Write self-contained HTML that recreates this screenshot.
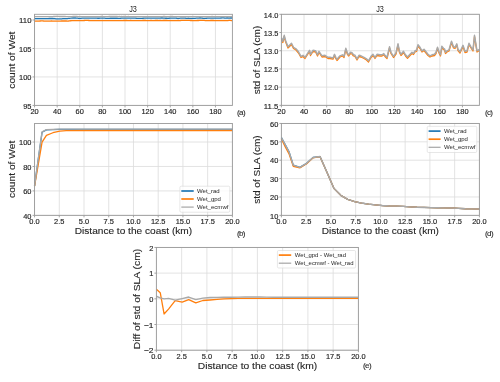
<!DOCTYPE html>
<html><head><meta charset="utf-8"><style>
html,body{margin:0;padding:0;background:#fff;}
svg{display:block;font-family:"Liberation Sans", sans-serif;}
</style></head><body>
<svg width="500" height="382" viewBox="0 0 500 382" style="will-change:transform">
<rect width="500" height="382" fill="#fff"/>
<line x1="34.55" y1="14.30" x2="34.55" y2="105.40" stroke="#dcdcdc" stroke-width="0.8"/>
<line x1="57.16" y1="14.30" x2="57.16" y2="105.40" stroke="#dcdcdc" stroke-width="0.8"/>
<line x1="79.77" y1="14.30" x2="79.77" y2="105.40" stroke="#dcdcdc" stroke-width="0.8"/>
<line x1="102.38" y1="14.30" x2="102.38" y2="105.40" stroke="#dcdcdc" stroke-width="0.8"/>
<line x1="125.00" y1="14.30" x2="125.00" y2="105.40" stroke="#dcdcdc" stroke-width="0.8"/>
<line x1="147.61" y1="14.30" x2="147.61" y2="105.40" stroke="#dcdcdc" stroke-width="0.8"/>
<line x1="170.22" y1="14.30" x2="170.22" y2="105.40" stroke="#dcdcdc" stroke-width="0.8"/>
<line x1="192.83" y1="14.30" x2="192.83" y2="105.40" stroke="#dcdcdc" stroke-width="0.8"/>
<line x1="215.44" y1="14.30" x2="215.44" y2="105.40" stroke="#dcdcdc" stroke-width="0.8"/>
<line x1="34.55" y1="105.40" x2="232.40" y2="105.40" stroke="#dcdcdc" stroke-width="0.8"/>
<line x1="34.55" y1="76.93" x2="232.40" y2="76.93" stroke="#dcdcdc" stroke-width="0.8"/>
<line x1="34.55" y1="48.46" x2="232.40" y2="48.46" stroke="#dcdcdc" stroke-width="0.8"/>
<line x1="34.55" y1="19.99" x2="232.40" y2="19.99" stroke="#dcdcdc" stroke-width="0.8"/>
<polyline points="34.55,18.57 35.68,18.55 36.81,18.60 37.94,18.66 39.07,18.64 40.20,18.60 41.33,18.67 42.46,18.65 43.59,18.71 44.73,18.69 45.86,18.70 46.99,18.71 48.12,18.61 49.25,18.48 50.38,18.50 51.51,18.52 52.64,18.50 53.77,18.64 54.90,18.71 56.03,18.79 57.16,18.86 58.29,18.84 59.42,18.84 60.55,18.85 61.68,18.79 62.81,18.70 63.94,18.66 65.08,18.57 66.21,18.56 67.34,18.53 68.47,18.47 69.60,18.39 70.73,18.23 71.86,18.04 72.99,18.01 74.12,17.98 75.25,17.97 76.38,18.09 77.51,18.19 78.64,18.30 79.77,18.29 80.90,18.28 82.03,18.19 83.16,18.18 84.30,18.05 85.43,18.03 86.56,18.09 87.69,18.19 88.82,18.11 89.95,18.18 91.08,18.16 92.21,18.10 93.34,18.12 94.47,18.16 95.60,18.12 96.73,18.22 97.86,18.27 98.99,18.23 100.12,18.18 101.25,18.18 102.38,18.21 103.51,18.18 104.65,18.22 105.78,18.35 106.91,18.34 108.04,18.34 109.17,18.29 110.30,18.24 111.43,18.22 112.56,18.23 113.69,18.24 114.82,18.22 115.95,18.27 117.08,18.24 118.21,18.32 119.34,18.29 120.47,18.25 121.60,18.15 122.73,18.16 123.87,18.06 125.00,18.07 126.13,18.16 127.26,18.15 128.39,18.10 129.52,18.22 130.65,18.10 131.78,18.13 132.91,18.22 134.04,18.20 135.17,18.16 136.30,18.26 137.43,18.28 138.56,18.31 139.69,18.34 140.82,18.35 141.95,18.31 143.08,18.26 144.22,18.21 145.35,18.15 146.48,18.12 147.61,18.12 148.74,18.05 149.87,18.09 151.00,18.21 152.13,18.14 153.26,18.11 154.39,18.20 155.52,18.20 156.65,18.11 157.78,18.11 158.91,18.20 160.04,18.10 161.17,17.99 162.30,18.01 163.44,18.09 164.57,18.10 165.70,18.24 166.83,18.23 167.96,18.28 169.09,18.24 170.22,18.22 171.35,18.10 172.48,18.15 173.61,18.15 174.74,18.22 175.87,18.16 177.00,18.27 178.13,18.32 179.26,18.28 180.39,18.18 181.52,18.20 182.65,18.17 183.79,18.07 184.92,18.12 186.05,18.24 187.18,18.29 188.31,18.27 189.44,18.39 190.57,18.40 191.70,18.35 192.83,18.30 193.96,18.35 195.09,18.30 196.22,18.20 197.35,18.11 198.48,18.10 199.61,18.01 200.74,17.98 201.87,18.09 203.01,18.23 204.14,18.32 205.27,18.29 206.40,18.27 207.53,18.15 208.66,18.16 209.79,18.06 210.92,18.13 212.05,18.12 213.18,18.22 214.31,18.07 215.44,18.16 216.57,18.15 217.70,18.15 218.83,18.06 219.96,18.10 221.09,18.01 222.22,17.97 223.36,17.94 224.49,18.02 225.62,18.03 226.75,18.00 227.88,17.99 229.01,18.07 230.14,18.00 231.27,17.97 232.40,18.02" fill="none" stroke="#1f77b4" stroke-width="1.3" stroke-linejoin="round" stroke-linecap="butt"/>
<polyline points="34.55,21.08 35.68,21.09 36.81,21.14 37.94,21.12 39.07,21.06 40.20,20.99 41.33,20.97 42.46,20.92 43.59,21.00 44.73,21.03 45.86,21.08 46.99,21.04 48.12,21.11 49.25,21.03 50.38,21.07 51.51,21.01 52.64,21.08 53.77,21.04 54.90,21.04 56.03,21.04 57.16,21.12 58.29,21.05 59.42,21.04 60.55,21.12 61.68,21.01 62.81,20.91 63.94,21.00 65.08,21.01 66.21,21.01 67.34,21.08 68.47,21.01 69.60,20.89 70.73,20.74 71.86,20.64 72.99,20.66 74.12,20.63 75.25,20.61 76.38,20.64 77.51,20.57 78.64,20.54 79.77,20.59 80.90,20.63 82.03,20.60 83.16,20.55 84.30,20.50 85.43,20.46 86.56,20.43 87.69,20.47 88.82,20.50 89.95,20.53 91.08,20.60 92.21,20.61 93.34,20.61 94.47,20.63 95.60,20.62 96.73,20.57 97.86,20.60 98.99,20.54 100.12,20.55 101.25,20.59 102.38,20.62 103.51,20.57 104.65,20.62 105.78,20.58 106.91,20.63 108.04,20.59 109.17,20.62 110.30,20.59 111.43,20.67 112.56,20.65 113.69,20.68 114.82,20.62 115.95,20.70 117.08,20.65 118.21,20.66 119.34,20.66 120.47,20.68 121.60,20.58 122.73,20.57 123.87,20.49 125.00,20.50 126.13,20.45 127.26,20.52 128.39,20.55 129.52,20.58 130.65,20.49 131.78,20.60 132.91,20.61 134.04,20.54 135.17,20.59 136.30,20.66 137.43,20.66 138.56,20.69 139.69,20.71 140.82,20.63 141.95,20.55 143.08,20.49 144.22,20.49 145.35,20.52 146.48,20.55 147.61,20.57 148.74,20.55 149.87,20.53 151.00,20.50 152.13,20.54 153.26,20.56 154.39,20.61 155.52,20.52 156.65,20.48 157.78,20.52 158.91,20.56 160.04,20.49 161.17,20.56 162.30,20.56 163.44,20.52 164.57,20.47 165.70,20.49 166.83,20.50 167.96,20.57 169.09,20.60 170.22,20.60 171.35,20.61 172.48,20.62 173.61,20.55 174.74,20.53 175.87,20.58 177.00,20.61 178.13,20.51 179.26,20.55 180.39,20.52 181.52,20.44 182.65,20.38 183.79,20.41 184.92,20.43 186.05,20.43 187.18,20.43 188.31,20.45 189.44,20.47 190.57,20.48 191.70,20.51 192.83,20.53 193.96,20.55 195.09,20.62 196.22,20.58 197.35,20.51 198.48,20.51 199.61,20.47 200.74,20.36 201.87,20.38 203.01,20.40 204.14,20.45 205.27,20.54 206.40,20.60 207.53,20.63 208.66,20.61 209.79,20.58 210.92,20.52 212.05,20.49 213.18,20.52 214.31,20.56 215.44,20.56 216.57,20.58 217.70,20.62 218.83,20.59 219.96,20.61 221.09,20.61 222.22,20.64 223.36,20.66 224.49,20.67 225.62,20.63 226.75,20.62 227.88,20.56 229.01,20.46 230.14,20.46 231.27,20.53 232.40,20.57" fill="none" stroke="#ff7f0e" stroke-width="1.3" stroke-linejoin="round" stroke-linecap="butt"/>
<polyline points="34.55,16.56 35.68,16.56 36.81,16.62 37.94,16.67 39.07,16.68 40.20,16.69 41.33,16.65 42.46,16.65 43.59,16.64 44.73,16.67 45.86,16.60 46.99,16.59 48.12,16.61 49.25,16.61 50.38,16.64 51.51,16.64 52.64,16.62 53.77,16.53 54.90,16.48 56.03,16.41 57.16,16.41 58.29,16.41 59.42,16.47 60.55,16.46 61.68,16.49 62.81,16.51 63.94,16.53 65.08,16.52 66.21,16.57 67.34,16.57 68.47,16.62 69.60,16.67 70.73,16.63 71.86,16.58 72.99,16.52 74.12,16.48 75.25,16.44 76.38,16.44 77.51,16.51 78.64,16.55 79.77,16.57 80.90,16.61 82.03,16.67 83.16,16.63 84.30,16.67 85.43,16.67 86.56,16.63 87.69,16.60 88.82,16.65 89.95,16.62 91.08,16.64 92.21,16.68 93.34,16.70 94.47,16.68 95.60,16.72 96.73,16.68 97.86,16.60 98.99,16.58 100.12,16.55 101.25,16.46 102.38,16.52 103.51,16.61 104.65,16.56 105.78,16.55 106.91,16.58 108.04,16.57 109.17,16.54 110.30,16.53 111.43,16.53 112.56,16.51 113.69,16.51 114.82,16.46 115.95,16.51 117.08,16.53 118.21,16.60 119.34,16.52 120.47,16.55 121.60,16.51 122.73,16.56 123.87,16.51 125.00,16.55 126.13,16.55 127.26,16.59 128.39,16.54 129.52,16.57 130.65,16.60 131.78,16.64 132.91,16.61 134.04,16.67 135.17,16.68 136.30,16.71 137.43,16.66 138.56,16.67 139.69,16.63 140.82,16.65 141.95,16.61 143.08,16.64 144.22,16.69 145.35,16.74 146.48,16.64 147.61,16.68 148.74,16.68 149.87,16.66 151.00,16.60 152.13,16.70 153.26,16.66 154.39,16.65 155.52,16.59 156.65,16.66 157.78,16.63 158.91,16.63 160.04,16.56 161.17,16.60 162.30,16.55 163.44,16.51 164.57,16.53 165.70,16.63 166.83,16.63 167.96,16.59 169.09,16.58 170.22,16.58 171.35,16.52 172.48,16.48 173.61,16.55 174.74,16.56 175.87,16.55 177.00,16.60 178.13,16.66 179.26,16.66 180.39,16.69 181.52,16.72 182.65,16.71 183.79,16.73 184.92,16.67 186.05,16.64 187.18,16.65 188.31,16.61 189.44,16.60 190.57,16.62 191.70,16.63 192.83,16.59 193.96,16.65 195.09,16.62 196.22,16.66 197.35,16.62 198.48,16.65 199.61,16.59 200.74,16.61 201.87,16.60 203.01,16.65 204.14,16.65 205.27,16.73 206.40,16.71 207.53,16.70 208.66,16.65 209.79,16.55 210.92,16.56 212.05,16.54 213.18,16.57 214.31,16.58 215.44,16.65 216.57,16.56 217.70,16.56 218.83,16.56 219.96,16.64 221.09,16.65 222.22,16.65 223.36,16.69 224.49,16.66 225.62,16.62 226.75,16.61 227.88,16.61 229.01,16.61 230.14,16.58 231.27,16.55 232.40,16.49" fill="none" stroke="#a9a9a9" stroke-width="1.35" stroke-linejoin="round" stroke-linecap="butt"/>
<line x1="34.55" y1="105.40" x2="34.55" y2="107.40" stroke="#9a9a9a" stroke-width="0.9"/>
<text x="34.55" y="113.80" font-size="6.96" text-anchor="middle" fill="#262626" textLength="8.27" lengthAdjust="spacingAndGlyphs" stroke="#262626" stroke-width="0.15">20</text>
<line x1="57.16" y1="105.40" x2="57.16" y2="107.40" stroke="#9a9a9a" stroke-width="0.9"/>
<text x="57.16" y="113.80" font-size="6.96" text-anchor="middle" fill="#262626" textLength="8.27" lengthAdjust="spacingAndGlyphs" stroke="#262626" stroke-width="0.15">40</text>
<line x1="79.77" y1="105.40" x2="79.77" y2="107.40" stroke="#9a9a9a" stroke-width="0.9"/>
<text x="79.77" y="113.80" font-size="6.96" text-anchor="middle" fill="#262626" textLength="8.27" lengthAdjust="spacingAndGlyphs" stroke="#262626" stroke-width="0.15">60</text>
<line x1="102.38" y1="105.40" x2="102.38" y2="107.40" stroke="#9a9a9a" stroke-width="0.9"/>
<text x="102.38" y="113.80" font-size="6.96" text-anchor="middle" fill="#262626" textLength="8.27" lengthAdjust="spacingAndGlyphs" stroke="#262626" stroke-width="0.15">80</text>
<line x1="125.00" y1="105.40" x2="125.00" y2="107.40" stroke="#9a9a9a" stroke-width="0.9"/>
<text x="125.00" y="113.80" font-size="6.96" text-anchor="middle" fill="#262626" textLength="12.41" lengthAdjust="spacingAndGlyphs" stroke="#262626" stroke-width="0.15">100</text>
<line x1="147.61" y1="105.40" x2="147.61" y2="107.40" stroke="#9a9a9a" stroke-width="0.9"/>
<text x="147.61" y="113.80" font-size="6.96" text-anchor="middle" fill="#262626" textLength="12.41" lengthAdjust="spacingAndGlyphs" stroke="#262626" stroke-width="0.15">120</text>
<line x1="170.22" y1="105.40" x2="170.22" y2="107.40" stroke="#9a9a9a" stroke-width="0.9"/>
<text x="170.22" y="113.80" font-size="6.96" text-anchor="middle" fill="#262626" textLength="12.41" lengthAdjust="spacingAndGlyphs" stroke="#262626" stroke-width="0.15">140</text>
<line x1="192.83" y1="105.40" x2="192.83" y2="107.40" stroke="#9a9a9a" stroke-width="0.9"/>
<text x="192.83" y="113.80" font-size="6.96" text-anchor="middle" fill="#262626" textLength="12.41" lengthAdjust="spacingAndGlyphs" stroke="#262626" stroke-width="0.15">160</text>
<line x1="215.44" y1="105.40" x2="215.44" y2="107.40" stroke="#9a9a9a" stroke-width="0.9"/>
<text x="215.44" y="113.80" font-size="6.96" text-anchor="middle" fill="#262626" textLength="12.41" lengthAdjust="spacingAndGlyphs" stroke="#262626" stroke-width="0.15">180</text>
<line x1="32.55" y1="105.40" x2="34.55" y2="105.40" stroke="#9a9a9a" stroke-width="0.9"/>
<text x="31.50" y="108.65" font-size="6.96" text-anchor="end" fill="#262626" textLength="8.27" lengthAdjust="spacingAndGlyphs" stroke="#262626" stroke-width="0.15">95</text>
<line x1="32.55" y1="76.93" x2="34.55" y2="76.93" stroke="#9a9a9a" stroke-width="0.9"/>
<text x="31.50" y="80.18" font-size="6.96" text-anchor="end" fill="#262626" textLength="12.41" lengthAdjust="spacingAndGlyphs" stroke="#262626" stroke-width="0.15">100</text>
<line x1="32.55" y1="48.46" x2="34.55" y2="48.46" stroke="#9a9a9a" stroke-width="0.9"/>
<text x="31.50" y="51.71" font-size="6.96" text-anchor="end" fill="#262626" textLength="12.41" lengthAdjust="spacingAndGlyphs" stroke="#262626" stroke-width="0.15">105</text>
<line x1="32.55" y1="19.99" x2="34.55" y2="19.99" stroke="#9a9a9a" stroke-width="0.9"/>
<text x="31.50" y="23.24" font-size="6.96" text-anchor="end" fill="#262626" textLength="12.41" lengthAdjust="spacingAndGlyphs" stroke="#262626" stroke-width="0.15">110</text>
<rect x="34.55" y="14.30" width="197.85" height="91.10" fill="none" stroke="#9a9a9a" stroke-width="0.9"/>
<line x1="34.55" y1="123.45" x2="34.55" y2="215.35" stroke="#dcdcdc" stroke-width="0.8"/>
<line x1="59.28" y1="123.45" x2="59.28" y2="215.35" stroke="#dcdcdc" stroke-width="0.8"/>
<line x1="84.01" y1="123.45" x2="84.01" y2="215.35" stroke="#dcdcdc" stroke-width="0.8"/>
<line x1="108.74" y1="123.45" x2="108.74" y2="215.35" stroke="#dcdcdc" stroke-width="0.8"/>
<line x1="133.48" y1="123.45" x2="133.48" y2="215.35" stroke="#dcdcdc" stroke-width="0.8"/>
<line x1="158.21" y1="123.45" x2="158.21" y2="215.35" stroke="#dcdcdc" stroke-width="0.8"/>
<line x1="182.94" y1="123.45" x2="182.94" y2="215.35" stroke="#dcdcdc" stroke-width="0.8"/>
<line x1="207.67" y1="123.45" x2="207.67" y2="215.35" stroke="#dcdcdc" stroke-width="0.8"/>
<line x1="232.40" y1="123.45" x2="232.40" y2="215.35" stroke="#dcdcdc" stroke-width="0.8"/>
<line x1="34.55" y1="215.35" x2="232.40" y2="215.35" stroke="#dcdcdc" stroke-width="0.8"/>
<line x1="34.55" y1="190.91" x2="232.40" y2="190.91" stroke="#dcdcdc" stroke-width="0.8"/>
<line x1="34.55" y1="166.47" x2="232.40" y2="166.47" stroke="#dcdcdc" stroke-width="0.8"/>
<line x1="34.55" y1="142.03" x2="232.40" y2="142.03" stroke="#dcdcdc" stroke-width="0.8"/>
<polyline points="34.55,186.02 38.31,159.13 42.07,132.25 46.42,129.93 52.95,129.56 59.78,129.44 66.21,129.41 73.13,129.41 80.06,129.41 86.98,129.41 93.91,129.41 100.83,129.41 107.75,129.41 114.68,129.41 121.60,129.41 128.53,129.41 135.45,129.41 142.38,129.41 149.30,129.41 156.23,129.41 163.15,129.41 170.08,129.41 177.00,129.41 183.93,129.41 190.85,129.41 197.78,129.41 204.70,129.41 211.63,129.41 218.55,129.41 225.48,129.41 232.40,129.41" fill="none" stroke="#1f77b4" stroke-width="1.3" stroke-linejoin="round" stroke-linecap="butt"/>
<polyline points="34.55,186.02 38.31,164.02 42.07,142.03 46.42,135.30 52.95,132.74 59.78,131.03 66.21,130.66 73.13,130.54 80.06,130.48 86.98,130.48 93.91,130.48 100.83,130.48 107.75,130.48 114.68,130.48 121.60,130.48 128.53,130.48 135.45,130.48 142.38,130.48 149.30,130.48 156.23,130.48 163.15,130.48 170.08,130.48 177.00,130.48 183.93,130.48 190.85,130.48 197.78,130.48 204.70,130.48 211.63,130.48 218.55,130.48 225.48,130.48 232.40,130.48" fill="none" stroke="#ff7f0e" stroke-width="1.3" stroke-linejoin="round" stroke-linecap="butt"/>
<polyline points="34.55,186.02 38.31,158.52 42.07,131.88 46.42,129.68 52.95,129.32 59.78,129.19 66.21,129.17 73.13,129.17 80.06,129.17 86.98,129.17 93.91,129.17 100.83,129.17 107.75,129.17 114.68,129.17 121.60,129.17 128.53,129.17 135.45,129.17 142.38,129.17 149.30,129.17 156.23,129.17 163.15,129.17 170.08,129.17 177.00,129.17 183.93,129.17 190.85,129.17 197.78,129.17 204.70,129.17 211.63,129.17 218.55,129.17 225.48,129.17 232.40,129.17" fill="none" stroke="#a9a9a9" stroke-width="1.35" stroke-linejoin="round" stroke-linecap="butt"/>
<line x1="34.55" y1="215.35" x2="34.55" y2="217.35" stroke="#9a9a9a" stroke-width="0.9"/>
<text x="34.55" y="223.80" font-size="6.96" text-anchor="middle" fill="#262626" textLength="10.34" lengthAdjust="spacingAndGlyphs" stroke="#262626" stroke-width="0.15">0.0</text>
<line x1="59.28" y1="215.35" x2="59.28" y2="217.35" stroke="#9a9a9a" stroke-width="0.9"/>
<text x="59.28" y="223.80" font-size="6.96" text-anchor="middle" fill="#262626" textLength="10.34" lengthAdjust="spacingAndGlyphs" stroke="#262626" stroke-width="0.15">2.5</text>
<line x1="84.01" y1="215.35" x2="84.01" y2="217.35" stroke="#9a9a9a" stroke-width="0.9"/>
<text x="84.01" y="223.80" font-size="6.96" text-anchor="middle" fill="#262626" textLength="10.34" lengthAdjust="spacingAndGlyphs" stroke="#262626" stroke-width="0.15">5.0</text>
<line x1="108.74" y1="215.35" x2="108.74" y2="217.35" stroke="#9a9a9a" stroke-width="0.9"/>
<text x="108.74" y="223.80" font-size="6.96" text-anchor="middle" fill="#262626" textLength="10.34" lengthAdjust="spacingAndGlyphs" stroke="#262626" stroke-width="0.15">7.5</text>
<line x1="133.48" y1="215.35" x2="133.48" y2="217.35" stroke="#9a9a9a" stroke-width="0.9"/>
<text x="133.48" y="223.80" font-size="6.96" text-anchor="middle" fill="#262626" textLength="14.47" lengthAdjust="spacingAndGlyphs" stroke="#262626" stroke-width="0.15">10.0</text>
<line x1="158.21" y1="215.35" x2="158.21" y2="217.35" stroke="#9a9a9a" stroke-width="0.9"/>
<text x="158.21" y="223.80" font-size="6.96" text-anchor="middle" fill="#262626" textLength="14.47" lengthAdjust="spacingAndGlyphs" stroke="#262626" stroke-width="0.15">12.5</text>
<line x1="182.94" y1="215.35" x2="182.94" y2="217.35" stroke="#9a9a9a" stroke-width="0.9"/>
<text x="182.94" y="223.80" font-size="6.96" text-anchor="middle" fill="#262626" textLength="14.47" lengthAdjust="spacingAndGlyphs" stroke="#262626" stroke-width="0.15">15.0</text>
<line x1="207.67" y1="215.35" x2="207.67" y2="217.35" stroke="#9a9a9a" stroke-width="0.9"/>
<text x="207.67" y="223.80" font-size="6.96" text-anchor="middle" fill="#262626" textLength="14.47" lengthAdjust="spacingAndGlyphs" stroke="#262626" stroke-width="0.15">17.5</text>
<line x1="232.40" y1="215.35" x2="232.40" y2="217.35" stroke="#9a9a9a" stroke-width="0.9"/>
<text x="232.40" y="223.80" font-size="6.96" text-anchor="middle" fill="#262626" textLength="14.47" lengthAdjust="spacingAndGlyphs" stroke="#262626" stroke-width="0.15">20.0</text>
<line x1="32.55" y1="215.35" x2="34.55" y2="215.35" stroke="#9a9a9a" stroke-width="0.9"/>
<text x="31.50" y="218.60" font-size="6.96" text-anchor="end" fill="#262626" textLength="8.27" lengthAdjust="spacingAndGlyphs" stroke="#262626" stroke-width="0.15">40</text>
<line x1="32.55" y1="190.91" x2="34.55" y2="190.91" stroke="#9a9a9a" stroke-width="0.9"/>
<text x="31.50" y="194.16" font-size="6.96" text-anchor="end" fill="#262626" textLength="8.27" lengthAdjust="spacingAndGlyphs" stroke="#262626" stroke-width="0.15">60</text>
<line x1="32.55" y1="166.47" x2="34.55" y2="166.47" stroke="#9a9a9a" stroke-width="0.9"/>
<text x="31.50" y="169.72" font-size="6.96" text-anchor="end" fill="#262626" textLength="8.27" lengthAdjust="spacingAndGlyphs" stroke="#262626" stroke-width="0.15">80</text>
<line x1="32.55" y1="142.03" x2="34.55" y2="142.03" stroke="#9a9a9a" stroke-width="0.9"/>
<text x="31.50" y="145.28" font-size="6.96" text-anchor="end" fill="#262626" textLength="12.41" lengthAdjust="spacingAndGlyphs" stroke="#262626" stroke-width="0.15">100</text>
<rect x="34.55" y="123.45" width="197.85" height="91.90" fill="none" stroke="#9a9a9a" stroke-width="0.9"/>
<rect x="179.90" y="186.20" width="49.90" height="26.00" rx="1.3" fill="#ffffff" fill-opacity="0.8" stroke="#d6d6d6" stroke-width="0.6"/>
<line x1="181.30" y1="191.00" x2="193.70" y2="191.00" stroke="#1f77b4" stroke-width="1.7"/>
<text x="197.00" y="192.90" font-size="5.72" text-anchor="start" fill="#262626" textLength="22.62" lengthAdjust="spacingAndGlyphs">Wet_rad</text>
<line x1="181.30" y1="199.00" x2="193.70" y2="199.00" stroke="#ff7f0e" stroke-width="1.7"/>
<text x="197.00" y="200.90" font-size="5.72" text-anchor="start" fill="#262626" textLength="23.93" lengthAdjust="spacingAndGlyphs">Wet_gpd</text>
<line x1="181.30" y1="207.10" x2="193.70" y2="207.10" stroke="#a9a9a9" stroke-width="1.25"/>
<text x="197.00" y="209.00" font-size="5.72" text-anchor="start" fill="#262626" textLength="31.43" lengthAdjust="spacingAndGlyphs">Wet_ecmwf</text>
<line x1="281.40" y1="14.30" x2="281.40" y2="105.35" stroke="#dcdcdc" stroke-width="0.8"/>
<line x1="304.03" y1="14.30" x2="304.03" y2="105.35" stroke="#dcdcdc" stroke-width="0.8"/>
<line x1="326.66" y1="14.30" x2="326.66" y2="105.35" stroke="#dcdcdc" stroke-width="0.8"/>
<line x1="349.29" y1="14.30" x2="349.29" y2="105.35" stroke="#dcdcdc" stroke-width="0.8"/>
<line x1="371.91" y1="14.30" x2="371.91" y2="105.35" stroke="#dcdcdc" stroke-width="0.8"/>
<line x1="394.54" y1="14.30" x2="394.54" y2="105.35" stroke="#dcdcdc" stroke-width="0.8"/>
<line x1="417.17" y1="14.30" x2="417.17" y2="105.35" stroke="#dcdcdc" stroke-width="0.8"/>
<line x1="439.80" y1="14.30" x2="439.80" y2="105.35" stroke="#dcdcdc" stroke-width="0.8"/>
<line x1="462.43" y1="14.30" x2="462.43" y2="105.35" stroke="#dcdcdc" stroke-width="0.8"/>
<line x1="281.40" y1="105.35" x2="479.40" y2="105.35" stroke="#dcdcdc" stroke-width="0.8"/>
<line x1="281.40" y1="87.14" x2="479.40" y2="87.14" stroke="#dcdcdc" stroke-width="0.8"/>
<line x1="281.40" y1="68.93" x2="479.40" y2="68.93" stroke="#dcdcdc" stroke-width="0.8"/>
<line x1="281.40" y1="50.72" x2="479.40" y2="50.72" stroke="#dcdcdc" stroke-width="0.8"/>
<line x1="281.40" y1="32.51" x2="479.40" y2="32.51" stroke="#dcdcdc" stroke-width="0.8"/>
<line x1="281.40" y1="14.30" x2="479.40" y2="14.30" stroke="#dcdcdc" stroke-width="0.8"/>
<polyline points="281.50,39.00 282.80,42.50 284.20,36.50 285.50,41.50 288.00,48.00 291.50,44.50 293.50,48.50 296.00,50.00 298.50,53.00 301.00,57.50 303.00,56.50 305.00,58.50 309.50,51.50 310.50,55.50 313.00,51.50 315.50,51.80 317.50,56.00 319.00,52.50 322.00,57.00 325.00,56.50 328.00,58.50 330.00,58.50 333.00,59.20 334.50,55.50 336.00,59.00 337.00,60.50 340.00,57.00 342.50,56.00 344.00,57.50 345.80,49.50 347.50,54.50 348.50,56.00 350.50,53.50 352.00,54.00 353.50,56.00 355.00,56.50 357.00,60.00 359.00,56.50 361.00,57.00 364.00,58.50 366.50,60.00 368.50,62.00 371.00,57.50 373.00,55.50 375.00,58.50 377.00,55.50 380.00,56.00 382.00,56.00 383.80,54.80 385.00,56.50 387.00,58.50 389.50,48.00 391.00,53.50 393.50,57.50 396.00,54.00 398.00,45.00 399.50,52.50 401.00,55.50 403.50,52.50 405.50,56.00 407.50,58.20 410.00,55.50 412.00,53.50 413.50,54.50 415.00,52.00 416.50,51.50 418.00,46.00 420.00,48.50 422.00,52.00 424.00,50.50 426.00,53.00 428.00,55.50 430.00,57.00 432.00,56.00 434.50,55.50 436.00,53.50 437.50,48.50 439.00,53.00 440.50,56.00 441.80,47.50 443.50,49.50 444.50,50.00 445.50,53.50 447.00,52.00 449.00,51.00 451.50,42.50 453.50,48.00 455.00,48.50 456.80,45.00 458.00,50.50 460.00,53.00 463.00,46.50 465.00,52.50 467.00,52.00 469.00,44.50 471.00,48.00 473.00,51.00 474.50,36.50 477.00,52.00 479.40,50.50" fill="none" stroke="#ff7f0e" stroke-width="1.3" stroke-linejoin="round" stroke-linecap="butt"/>
<polyline points="281.50,37.80 282.80,41.30 284.20,35.30 285.50,40.30 288.00,46.80 291.50,43.30 293.50,47.30 296.00,48.80 298.50,51.80 301.00,56.30 303.00,55.30 305.00,57.30 309.50,50.30 310.50,54.30 313.00,50.30 315.50,50.60 317.50,54.80 319.00,51.30 322.00,55.80 325.00,55.30 328.00,57.30 330.00,57.30 333.00,58.00 334.50,54.30 336.00,57.80 337.00,59.30 340.00,55.80 342.50,54.80 344.00,56.30 345.80,48.30 347.50,53.30 348.50,54.80 350.50,52.30 352.00,52.80 353.50,54.80 355.00,55.30 357.00,58.80 359.00,55.30 361.00,55.80 364.00,57.30 366.50,58.80 368.50,60.80 371.00,56.30 373.00,54.30 375.00,57.30 377.00,54.30 380.00,54.80 382.00,54.80 383.80,53.60 385.00,55.30 387.00,57.30 389.50,46.80 391.00,52.30 393.50,56.30 396.00,52.80 398.00,43.80 399.50,51.30 401.00,54.30 403.50,51.30 405.50,54.80 407.50,57.00 410.00,54.30 412.00,52.30 413.50,53.30 415.00,50.80 416.50,50.30 418.00,44.80 420.00,47.30 422.00,50.80 424.00,49.30 426.00,51.80 428.00,54.30 430.00,55.80 432.00,54.80 434.50,54.30 436.00,52.30 437.50,47.30 439.00,51.80 440.50,54.80 441.80,46.30 443.50,48.30 444.50,48.80 445.50,52.30 447.00,50.80 449.00,49.80 451.50,41.30 453.50,46.80 455.00,47.30 456.80,43.80 458.00,49.30 460.00,51.80 463.00,45.30 465.00,51.30 467.00,50.80 469.00,43.30 471.00,46.80 473.00,49.80 474.50,35.30 477.00,50.80 479.40,49.30" fill="none" stroke="#a9a9a9" stroke-width="1.45" stroke-linejoin="round" stroke-linecap="butt"/>
<line x1="281.40" y1="105.35" x2="281.40" y2="107.35" stroke="#9a9a9a" stroke-width="0.9"/>
<text x="281.40" y="113.80" font-size="6.96" text-anchor="middle" fill="#262626" textLength="8.27" lengthAdjust="spacingAndGlyphs" stroke="#262626" stroke-width="0.15">20</text>
<line x1="304.03" y1="105.35" x2="304.03" y2="107.35" stroke="#9a9a9a" stroke-width="0.9"/>
<text x="304.03" y="113.80" font-size="6.96" text-anchor="middle" fill="#262626" textLength="8.27" lengthAdjust="spacingAndGlyphs" stroke="#262626" stroke-width="0.15">40</text>
<line x1="326.66" y1="105.35" x2="326.66" y2="107.35" stroke="#9a9a9a" stroke-width="0.9"/>
<text x="326.66" y="113.80" font-size="6.96" text-anchor="middle" fill="#262626" textLength="8.27" lengthAdjust="spacingAndGlyphs" stroke="#262626" stroke-width="0.15">60</text>
<line x1="349.29" y1="105.35" x2="349.29" y2="107.35" stroke="#9a9a9a" stroke-width="0.9"/>
<text x="349.29" y="113.80" font-size="6.96" text-anchor="middle" fill="#262626" textLength="8.27" lengthAdjust="spacingAndGlyphs" stroke="#262626" stroke-width="0.15">80</text>
<line x1="371.91" y1="105.35" x2="371.91" y2="107.35" stroke="#9a9a9a" stroke-width="0.9"/>
<text x="371.91" y="113.80" font-size="6.96" text-anchor="middle" fill="#262626" textLength="12.41" lengthAdjust="spacingAndGlyphs" stroke="#262626" stroke-width="0.15">100</text>
<line x1="394.54" y1="105.35" x2="394.54" y2="107.35" stroke="#9a9a9a" stroke-width="0.9"/>
<text x="394.54" y="113.80" font-size="6.96" text-anchor="middle" fill="#262626" textLength="12.41" lengthAdjust="spacingAndGlyphs" stroke="#262626" stroke-width="0.15">120</text>
<line x1="417.17" y1="105.35" x2="417.17" y2="107.35" stroke="#9a9a9a" stroke-width="0.9"/>
<text x="417.17" y="113.80" font-size="6.96" text-anchor="middle" fill="#262626" textLength="12.41" lengthAdjust="spacingAndGlyphs" stroke="#262626" stroke-width="0.15">140</text>
<line x1="439.80" y1="105.35" x2="439.80" y2="107.35" stroke="#9a9a9a" stroke-width="0.9"/>
<text x="439.80" y="113.80" font-size="6.96" text-anchor="middle" fill="#262626" textLength="12.41" lengthAdjust="spacingAndGlyphs" stroke="#262626" stroke-width="0.15">160</text>
<line x1="462.43" y1="105.35" x2="462.43" y2="107.35" stroke="#9a9a9a" stroke-width="0.9"/>
<text x="462.43" y="113.80" font-size="6.96" text-anchor="middle" fill="#262626" textLength="12.41" lengthAdjust="spacingAndGlyphs" stroke="#262626" stroke-width="0.15">180</text>
<line x1="279.40" y1="105.35" x2="281.40" y2="105.35" stroke="#9a9a9a" stroke-width="0.9"/>
<text x="278.35" y="108.60" font-size="6.96" text-anchor="end" fill="#262626" textLength="14.47" lengthAdjust="spacingAndGlyphs" stroke="#262626" stroke-width="0.15">11.5</text>
<line x1="279.40" y1="87.14" x2="281.40" y2="87.14" stroke="#9a9a9a" stroke-width="0.9"/>
<text x="278.35" y="90.39" font-size="6.96" text-anchor="end" fill="#262626" textLength="14.47" lengthAdjust="spacingAndGlyphs" stroke="#262626" stroke-width="0.15">12.0</text>
<line x1="279.40" y1="68.93" x2="281.40" y2="68.93" stroke="#9a9a9a" stroke-width="0.9"/>
<text x="278.35" y="72.18" font-size="6.96" text-anchor="end" fill="#262626" textLength="14.47" lengthAdjust="spacingAndGlyphs" stroke="#262626" stroke-width="0.15">12.5</text>
<line x1="279.40" y1="50.72" x2="281.40" y2="50.72" stroke="#9a9a9a" stroke-width="0.9"/>
<text x="278.35" y="53.97" font-size="6.96" text-anchor="end" fill="#262626" textLength="14.47" lengthAdjust="spacingAndGlyphs" stroke="#262626" stroke-width="0.15">13.0</text>
<line x1="279.40" y1="32.51" x2="281.40" y2="32.51" stroke="#9a9a9a" stroke-width="0.9"/>
<text x="278.35" y="35.76" font-size="6.96" text-anchor="end" fill="#262626" textLength="14.47" lengthAdjust="spacingAndGlyphs" stroke="#262626" stroke-width="0.15">13.5</text>
<line x1="279.40" y1="14.30" x2="281.40" y2="14.30" stroke="#9a9a9a" stroke-width="0.9"/>
<text x="278.35" y="17.55" font-size="6.96" text-anchor="end" fill="#262626" textLength="14.47" lengthAdjust="spacingAndGlyphs" stroke="#262626" stroke-width="0.15">14.0</text>
<rect x="281.40" y="14.30" width="198.00" height="91.05" fill="none" stroke="#9a9a9a" stroke-width="0.9"/>
<line x1="281.40" y1="123.45" x2="281.40" y2="215.36" stroke="#dcdcdc" stroke-width="0.8"/>
<line x1="306.15" y1="123.45" x2="306.15" y2="215.36" stroke="#dcdcdc" stroke-width="0.8"/>
<line x1="330.90" y1="123.45" x2="330.90" y2="215.36" stroke="#dcdcdc" stroke-width="0.8"/>
<line x1="355.65" y1="123.45" x2="355.65" y2="215.36" stroke="#dcdcdc" stroke-width="0.8"/>
<line x1="380.40" y1="123.45" x2="380.40" y2="215.36" stroke="#dcdcdc" stroke-width="0.8"/>
<line x1="405.15" y1="123.45" x2="405.15" y2="215.36" stroke="#dcdcdc" stroke-width="0.8"/>
<line x1="429.90" y1="123.45" x2="429.90" y2="215.36" stroke="#dcdcdc" stroke-width="0.8"/>
<line x1="454.65" y1="123.45" x2="454.65" y2="215.36" stroke="#dcdcdc" stroke-width="0.8"/>
<line x1="479.40" y1="123.45" x2="479.40" y2="215.36" stroke="#dcdcdc" stroke-width="0.8"/>
<line x1="281.40" y1="215.36" x2="479.40" y2="215.36" stroke="#dcdcdc" stroke-width="0.8"/>
<line x1="281.40" y1="196.98" x2="479.40" y2="196.98" stroke="#dcdcdc" stroke-width="0.8"/>
<line x1="281.40" y1="178.60" x2="479.40" y2="178.60" stroke="#dcdcdc" stroke-width="0.8"/>
<line x1="281.40" y1="160.21" x2="479.40" y2="160.21" stroke="#dcdcdc" stroke-width="0.8"/>
<line x1="281.40" y1="141.83" x2="479.40" y2="141.83" stroke="#dcdcdc" stroke-width="0.8"/>
<line x1="281.40" y1="123.45" x2="479.40" y2="123.45" stroke="#dcdcdc" stroke-width="0.8"/>
<polyline points="281.40,137.60 285.16,144.59 288.92,151.57 293.28,165.18 299.81,167.38 306.64,163.34 313.08,157.46 320.01,156.54 326.94,172.35 333.87,188.34 340.80,195.32 347.73,199.37 354.66,201.57 361.59,203.04 368.52,204.15 375.45,204.88 382.38,205.53 389.31,205.99 396.24,206.17 403.17,206.44 410.10,206.90 417.03,207.27 423.96,207.46 430.89,207.64 437.82,207.73 444.75,207.82 451.68,208.01 458.61,208.37 465.54,208.74 472.47,208.93 479.40,209.02" fill="none" stroke="#1f77b4" stroke-width="1.3" stroke-linejoin="round" stroke-linecap="butt"/>
<polyline points="281.40,138.89 285.16,146.80 288.92,153.60 293.28,166.28 299.81,167.93 306.64,163.71 313.08,157.82 320.01,156.72 326.94,172.35 333.87,188.34 340.80,195.32 347.73,199.37 354.66,201.57 361.59,203.04 368.52,204.15 375.45,204.88 382.38,205.53 389.31,205.99 396.24,206.17 403.17,206.44 410.10,206.90 417.03,207.27 423.96,207.46 430.89,207.64 437.82,207.73 444.75,207.82 451.68,208.01 458.61,208.37 465.54,208.74 472.47,208.93 479.40,209.02" fill="none" stroke="#ff7f0e" stroke-width="1.3" stroke-linejoin="round" stroke-linecap="butt"/>
<polyline points="281.40,137.60 285.16,144.59 288.92,151.57 293.28,165.18 299.81,167.38 306.64,163.34 313.08,157.46 320.01,156.54 326.94,172.35 333.87,188.34 340.80,195.32 347.73,199.37 354.66,201.57 361.59,203.04 368.52,204.15 375.45,204.88 382.38,205.53 389.31,205.99 396.24,206.17 403.17,206.44 410.10,206.90 417.03,207.27 423.96,207.46 430.89,207.64 437.82,207.73 444.75,207.82 451.68,208.01 458.61,208.37 465.54,208.74 472.47,208.93 479.40,209.02" fill="none" stroke="#a9a9a9" stroke-width="1.35" stroke-linejoin="round" stroke-linecap="butt"/>
<line x1="281.40" y1="215.36" x2="281.40" y2="217.36" stroke="#9a9a9a" stroke-width="0.9"/>
<text x="281.40" y="223.80" font-size="6.96" text-anchor="middle" fill="#262626" textLength="10.34" lengthAdjust="spacingAndGlyphs" stroke="#262626" stroke-width="0.15">0.0</text>
<line x1="306.15" y1="215.36" x2="306.15" y2="217.36" stroke="#9a9a9a" stroke-width="0.9"/>
<text x="306.15" y="223.80" font-size="6.96" text-anchor="middle" fill="#262626" textLength="10.34" lengthAdjust="spacingAndGlyphs" stroke="#262626" stroke-width="0.15">2.5</text>
<line x1="330.90" y1="215.36" x2="330.90" y2="217.36" stroke="#9a9a9a" stroke-width="0.9"/>
<text x="330.90" y="223.80" font-size="6.96" text-anchor="middle" fill="#262626" textLength="10.34" lengthAdjust="spacingAndGlyphs" stroke="#262626" stroke-width="0.15">5.0</text>
<line x1="355.65" y1="215.36" x2="355.65" y2="217.36" stroke="#9a9a9a" stroke-width="0.9"/>
<text x="355.65" y="223.80" font-size="6.96" text-anchor="middle" fill="#262626" textLength="10.34" lengthAdjust="spacingAndGlyphs" stroke="#262626" stroke-width="0.15">7.5</text>
<line x1="380.40" y1="215.36" x2="380.40" y2="217.36" stroke="#9a9a9a" stroke-width="0.9"/>
<text x="380.40" y="223.80" font-size="6.96" text-anchor="middle" fill="#262626" textLength="14.47" lengthAdjust="spacingAndGlyphs" stroke="#262626" stroke-width="0.15">10.0</text>
<line x1="405.15" y1="215.36" x2="405.15" y2="217.36" stroke="#9a9a9a" stroke-width="0.9"/>
<text x="405.15" y="223.80" font-size="6.96" text-anchor="middle" fill="#262626" textLength="14.47" lengthAdjust="spacingAndGlyphs" stroke="#262626" stroke-width="0.15">12.5</text>
<line x1="429.90" y1="215.36" x2="429.90" y2="217.36" stroke="#9a9a9a" stroke-width="0.9"/>
<text x="429.90" y="223.80" font-size="6.96" text-anchor="middle" fill="#262626" textLength="14.47" lengthAdjust="spacingAndGlyphs" stroke="#262626" stroke-width="0.15">15.0</text>
<line x1="454.65" y1="215.36" x2="454.65" y2="217.36" stroke="#9a9a9a" stroke-width="0.9"/>
<text x="454.65" y="223.80" font-size="6.96" text-anchor="middle" fill="#262626" textLength="14.47" lengthAdjust="spacingAndGlyphs" stroke="#262626" stroke-width="0.15">17.5</text>
<line x1="479.40" y1="215.36" x2="479.40" y2="217.36" stroke="#9a9a9a" stroke-width="0.9"/>
<text x="479.40" y="223.80" font-size="6.96" text-anchor="middle" fill="#262626" textLength="14.47" lengthAdjust="spacingAndGlyphs" stroke="#262626" stroke-width="0.15">20.0</text>
<line x1="279.40" y1="215.36" x2="281.40" y2="215.36" stroke="#9a9a9a" stroke-width="0.9"/>
<text x="278.35" y="218.61" font-size="6.96" text-anchor="end" fill="#262626" textLength="8.27" lengthAdjust="spacingAndGlyphs" stroke="#262626" stroke-width="0.15">10</text>
<line x1="279.40" y1="196.98" x2="281.40" y2="196.98" stroke="#9a9a9a" stroke-width="0.9"/>
<text x="278.35" y="200.23" font-size="6.96" text-anchor="end" fill="#262626" textLength="8.27" lengthAdjust="spacingAndGlyphs" stroke="#262626" stroke-width="0.15">20</text>
<line x1="279.40" y1="178.60" x2="281.40" y2="178.60" stroke="#9a9a9a" stroke-width="0.9"/>
<text x="278.35" y="181.85" font-size="6.96" text-anchor="end" fill="#262626" textLength="8.27" lengthAdjust="spacingAndGlyphs" stroke="#262626" stroke-width="0.15">30</text>
<line x1="279.40" y1="160.21" x2="281.40" y2="160.21" stroke="#9a9a9a" stroke-width="0.9"/>
<text x="278.35" y="163.46" font-size="6.96" text-anchor="end" fill="#262626" textLength="8.27" lengthAdjust="spacingAndGlyphs" stroke="#262626" stroke-width="0.15">40</text>
<line x1="279.40" y1="141.83" x2="281.40" y2="141.83" stroke="#9a9a9a" stroke-width="0.9"/>
<text x="278.35" y="145.08" font-size="6.96" text-anchor="end" fill="#262626" textLength="8.27" lengthAdjust="spacingAndGlyphs" stroke="#262626" stroke-width="0.15">50</text>
<line x1="279.40" y1="123.45" x2="281.40" y2="123.45" stroke="#9a9a9a" stroke-width="0.9"/>
<text x="278.35" y="126.70" font-size="6.96" text-anchor="end" fill="#262626" textLength="8.27" lengthAdjust="spacingAndGlyphs" stroke="#262626" stroke-width="0.15">60</text>
<rect x="281.40" y="123.45" width="198.00" height="91.91" fill="none" stroke="#9a9a9a" stroke-width="0.9"/>
<rect x="427.20" y="126.30" width="49.60" height="26.20" rx="1.3" fill="#ffffff" fill-opacity="0.8" stroke="#d6d6d6" stroke-width="0.6"/>
<line x1="428.60" y1="131.10" x2="440.60" y2="131.10" stroke="#1f77b4" stroke-width="1.7"/>
<text x="444.00" y="133.00" font-size="5.72" text-anchor="start" fill="#262626" textLength="22.62" lengthAdjust="spacingAndGlyphs">Wet_rad</text>
<line x1="428.60" y1="139.20" x2="440.60" y2="139.20" stroke="#ff7f0e" stroke-width="1.7"/>
<text x="444.00" y="141.10" font-size="5.72" text-anchor="start" fill="#262626" textLength="23.93" lengthAdjust="spacingAndGlyphs">Wet_gpd</text>
<line x1="428.60" y1="147.30" x2="440.60" y2="147.30" stroke="#a9a9a9" stroke-width="1.25"/>
<text x="444.00" y="149.20" font-size="5.72" text-anchor="start" fill="#262626" textLength="31.43" lengthAdjust="spacingAndGlyphs">Wet_ecmwf</text>
<line x1="156.40" y1="247.44" x2="156.40" y2="350.20" stroke="#dcdcdc" stroke-width="0.8"/>
<line x1="181.65" y1="247.44" x2="181.65" y2="350.20" stroke="#dcdcdc" stroke-width="0.8"/>
<line x1="206.90" y1="247.44" x2="206.90" y2="350.20" stroke="#dcdcdc" stroke-width="0.8"/>
<line x1="232.15" y1="247.44" x2="232.15" y2="350.20" stroke="#dcdcdc" stroke-width="0.8"/>
<line x1="257.40" y1="247.44" x2="257.40" y2="350.20" stroke="#dcdcdc" stroke-width="0.8"/>
<line x1="282.65" y1="247.44" x2="282.65" y2="350.20" stroke="#dcdcdc" stroke-width="0.8"/>
<line x1="307.90" y1="247.44" x2="307.90" y2="350.20" stroke="#dcdcdc" stroke-width="0.8"/>
<line x1="333.15" y1="247.44" x2="333.15" y2="350.20" stroke="#dcdcdc" stroke-width="0.8"/>
<line x1="358.40" y1="247.44" x2="358.40" y2="350.20" stroke="#dcdcdc" stroke-width="0.8"/>
<line x1="156.40" y1="350.20" x2="358.40" y2="350.20" stroke="#dcdcdc" stroke-width="0.8"/>
<line x1="156.40" y1="324.51" x2="358.40" y2="324.51" stroke="#dcdcdc" stroke-width="0.8"/>
<line x1="156.40" y1="298.82" x2="358.40" y2="298.82" stroke="#dcdcdc" stroke-width="0.8"/>
<line x1="156.40" y1="273.13" x2="358.40" y2="273.13" stroke="#dcdcdc" stroke-width="0.8"/>
<line x1="156.40" y1="247.44" x2="358.40" y2="247.44" stroke="#dcdcdc" stroke-width="0.8"/>
<polyline points="156.40,289.31 160.24,292.65 164.08,313.98 168.52,309.10 175.19,300.62 182.16,302.16 188.72,299.59 195.79,302.93 202.86,300.49 209.93,299.98 217.00,299.33 224.07,298.82 231.14,298.56 238.21,298.43 245.28,298.31 252.35,298.31 259.42,298.31 266.49,298.31 273.56,298.31 280.63,298.31 287.70,298.31 294.77,298.31 301.84,298.31 308.91,298.31 315.98,298.31 323.05,298.31 330.12,298.31 337.19,298.31 344.26,298.31 351.33,298.31 358.40,298.31" fill="none" stroke="#ff7f0e" stroke-width="1.3" stroke-linejoin="round" stroke-linecap="butt"/>
<polyline points="156.40,296.25 160.24,297.79 164.08,298.82 168.52,298.41 175.19,300.10 182.16,298.56 188.72,297.02 195.79,299.59 202.86,298.18 209.93,297.54 217.00,297.41 224.07,297.28 231.14,297.28 238.21,297.15 245.28,297.02 252.35,296.89 259.42,297.02 266.49,297.15 273.56,297.20 280.63,297.20 287.70,297.20 294.77,297.20 301.84,297.20 308.91,297.20 315.98,297.20 323.05,297.20 330.12,297.20 337.19,297.20 344.26,297.20 351.33,297.20 358.40,297.20" fill="none" stroke="#a9a9a9" stroke-width="1.35" stroke-linejoin="round" stroke-linecap="butt"/>
<line x1="156.40" y1="350.20" x2="156.40" y2="352.20" stroke="#9a9a9a" stroke-width="0.9"/>
<text x="156.40" y="358.50" font-size="6.96" text-anchor="middle" fill="#262626" textLength="10.34" lengthAdjust="spacingAndGlyphs" stroke="#262626" stroke-width="0.15">0.0</text>
<line x1="181.65" y1="350.20" x2="181.65" y2="352.20" stroke="#9a9a9a" stroke-width="0.9"/>
<text x="181.65" y="358.50" font-size="6.96" text-anchor="middle" fill="#262626" textLength="10.34" lengthAdjust="spacingAndGlyphs" stroke="#262626" stroke-width="0.15">2.5</text>
<line x1="206.90" y1="350.20" x2="206.90" y2="352.20" stroke="#9a9a9a" stroke-width="0.9"/>
<text x="206.90" y="358.50" font-size="6.96" text-anchor="middle" fill="#262626" textLength="10.34" lengthAdjust="spacingAndGlyphs" stroke="#262626" stroke-width="0.15">5.0</text>
<line x1="232.15" y1="350.20" x2="232.15" y2="352.20" stroke="#9a9a9a" stroke-width="0.9"/>
<text x="232.15" y="358.50" font-size="6.96" text-anchor="middle" fill="#262626" textLength="10.34" lengthAdjust="spacingAndGlyphs" stroke="#262626" stroke-width="0.15">7.5</text>
<line x1="257.40" y1="350.20" x2="257.40" y2="352.20" stroke="#9a9a9a" stroke-width="0.9"/>
<text x="257.40" y="358.50" font-size="6.96" text-anchor="middle" fill="#262626" textLength="14.47" lengthAdjust="spacingAndGlyphs" stroke="#262626" stroke-width="0.15">10.0</text>
<line x1="282.65" y1="350.20" x2="282.65" y2="352.20" stroke="#9a9a9a" stroke-width="0.9"/>
<text x="282.65" y="358.50" font-size="6.96" text-anchor="middle" fill="#262626" textLength="14.47" lengthAdjust="spacingAndGlyphs" stroke="#262626" stroke-width="0.15">12.5</text>
<line x1="307.90" y1="350.20" x2="307.90" y2="352.20" stroke="#9a9a9a" stroke-width="0.9"/>
<text x="307.90" y="358.50" font-size="6.96" text-anchor="middle" fill="#262626" textLength="14.47" lengthAdjust="spacingAndGlyphs" stroke="#262626" stroke-width="0.15">15.0</text>
<line x1="333.15" y1="350.20" x2="333.15" y2="352.20" stroke="#9a9a9a" stroke-width="0.9"/>
<text x="333.15" y="358.50" font-size="6.96" text-anchor="middle" fill="#262626" textLength="14.47" lengthAdjust="spacingAndGlyphs" stroke="#262626" stroke-width="0.15">17.5</text>
<line x1="358.40" y1="350.20" x2="358.40" y2="352.20" stroke="#9a9a9a" stroke-width="0.9"/>
<text x="358.40" y="358.50" font-size="6.96" text-anchor="middle" fill="#262626" textLength="14.47" lengthAdjust="spacingAndGlyphs" stroke="#262626" stroke-width="0.15">20.0</text>
<line x1="154.40" y1="350.20" x2="156.40" y2="350.20" stroke="#9a9a9a" stroke-width="0.9"/>
<text x="153.35" y="353.45" font-size="6.96" text-anchor="end" fill="#262626" textLength="9.58" lengthAdjust="spacingAndGlyphs" stroke="#262626" stroke-width="0.15">−2</text>
<line x1="154.40" y1="324.51" x2="156.40" y2="324.51" stroke="#9a9a9a" stroke-width="0.9"/>
<text x="153.35" y="327.76" font-size="6.96" text-anchor="end" fill="#262626" textLength="9.58" lengthAdjust="spacingAndGlyphs" stroke="#262626" stroke-width="0.15">−1</text>
<line x1="154.40" y1="298.82" x2="156.40" y2="298.82" stroke="#9a9a9a" stroke-width="0.9"/>
<text x="153.35" y="302.07" font-size="6.96" text-anchor="end" fill="#262626" textLength="4.14" lengthAdjust="spacingAndGlyphs" stroke="#262626" stroke-width="0.15">0</text>
<line x1="154.40" y1="273.13" x2="156.40" y2="273.13" stroke="#9a9a9a" stroke-width="0.9"/>
<text x="153.35" y="276.38" font-size="6.96" text-anchor="end" fill="#262626" textLength="4.14" lengthAdjust="spacingAndGlyphs" stroke="#262626" stroke-width="0.15">1</text>
<line x1="154.40" y1="247.44" x2="156.40" y2="247.44" stroke="#9a9a9a" stroke-width="0.9"/>
<text x="153.35" y="250.69" font-size="6.96" text-anchor="end" fill="#262626" textLength="4.14" lengthAdjust="spacingAndGlyphs" stroke="#262626" stroke-width="0.15">2</text>
<rect x="156.40" y="247.44" width="202.00" height="102.76" fill="none" stroke="#9a9a9a" stroke-width="0.9"/>
<rect x="277.40" y="250.50" width="78.20" height="17.50" rx="1.3" fill="#ffffff" fill-opacity="0.8" stroke="#d6d6d6" stroke-width="0.6"/>
<line x1="278.80" y1="255.10" x2="291.20" y2="255.10" stroke="#ff7f0e" stroke-width="1.7"/>
<text x="294.80" y="257.00" font-size="5.72" text-anchor="start" fill="#262626" textLength="51.18" lengthAdjust="spacingAndGlyphs">Wet_gpd - Wet_rad</text>
<line x1="278.80" y1="263.20" x2="291.20" y2="263.20" stroke="#a9a9a9" stroke-width="1.25"/>
<text x="294.80" y="265.10" font-size="5.72" text-anchor="start" fill="#262626" textLength="58.68" lengthAdjust="spacingAndGlyphs">Wet_ecmwf - Wet_rad</text>
<text x="133.078" y="12.000" font-size="9.600" text-anchor="middle" fill="#262626" stroke="#262626" stroke-width="0.0" textLength="7.709" lengthAdjust="spacingAndGlyphs">J3</text>
<text x="380.078" y="12.000" font-size="9.600" text-anchor="middle" fill="#262626" stroke="#262626" stroke-width="0.0" textLength="7.709" lengthAdjust="spacingAndGlyphs">J3</text>
<text x="133.445" y="234.000" font-size="9.600" text-anchor="middle" fill="#262626" stroke="#262626" stroke-width="0.12" textLength="117.438" lengthAdjust="spacingAndGlyphs">Distance to the coast (km)</text>
<text x="380.294" y="234.000" font-size="9.600" text-anchor="middle" fill="#262626" stroke="#262626" stroke-width="0.12" textLength="117.338" lengthAdjust="spacingAndGlyphs">Distance to the coast (km)</text>
<text x="257.511" y="369.000" font-size="9.600" text-anchor="middle" fill="#262626" stroke="#262626" stroke-width="0.12" textLength="119.520" lengthAdjust="spacingAndGlyphs">Distance to the coast (km)</text>
<text x="15.000" y="60.153" font-size="9.600" text-anchor="middle" fill="#262626" stroke="#262626" stroke-width="0.12" textLength="57.074" lengthAdjust="spacingAndGlyphs" transform="rotate(-90 15.000 60.153)">count of Wet</text>
<text x="15.000" y="169.344" font-size="9.600" text-anchor="middle" fill="#262626" stroke="#262626" stroke-width="0.12" textLength="57.200" lengthAdjust="spacingAndGlyphs" transform="rotate(-90 15.000 169.344)">count of Wet</text>
<text x="260.000" y="59.997" font-size="9.600" text-anchor="middle" fill="#262626" stroke="#262626" stroke-width="0.12" textLength="68.617" lengthAdjust="spacingAndGlyphs" transform="rotate(-90 260.000 59.997)">std of SLA (cm)</text>
<text x="260.000" y="169.568" font-size="9.600" text-anchor="middle" fill="#262626" stroke="#262626" stroke-width="0.12" textLength="68.402" lengthAdjust="spacingAndGlyphs" transform="rotate(-90 260.000 169.568)">std of SLA (cm)</text>
<text x="140.000" y="298.958" font-size="9.600" text-anchor="middle" fill="#262626" stroke="#262626" stroke-width="0.12" textLength="100.471" lengthAdjust="spacingAndGlyphs" transform="rotate(-90 140.000 298.958)">Diff of std of SLA (cm)</text>
<text x="237.10" y="114.54" font-size="8.0" fill="#262626" stroke="#262626" stroke-width="0.1" textLength="8.5" lengthAdjust="spacing">(a)</text>
<text x="237.10" y="236.34" font-size="8.0" fill="#262626" stroke="#262626" stroke-width="0.1" textLength="8.3" lengthAdjust="spacing">(b)</text>
<text x="485.10" y="114.54" font-size="8.0" fill="#262626" stroke="#262626" stroke-width="0.1" textLength="7.9" lengthAdjust="spacing">(c)</text>
<text x="485.10" y="236.44" font-size="8.0" fill="#262626" stroke="#262626" stroke-width="0.1" textLength="8.5" lengthAdjust="spacing">(d)</text>
<text x="363.10" y="368.44" font-size="8.0" fill="#262626" stroke="#262626" stroke-width="0.1" textLength="8.5" lengthAdjust="spacing">(e)</text>
</svg></body></html>
